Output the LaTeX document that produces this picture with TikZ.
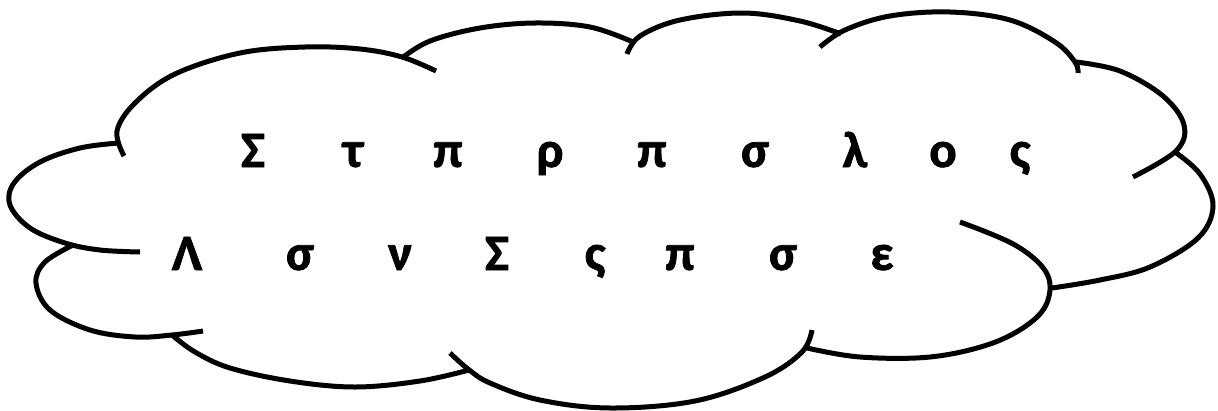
\documentclass[tikz,border=0pt]{standalone}
\usepackage{fontspec}
\setmainfont{Carlito}
\newfontfamily\gfont{Carlito Bold}[FakeBold=1.5]
\begin{document}
\begin{tikzpicture}[x=1pt,y=-1pt,
  bump/.style={line width=5pt, line cap=butt},
  letter/.style={anchor=base, inner sep=0pt, font=\gfont\fontsize{51}{60}\selectfont}]
\useasboundingbox (0,0) rectangle (1218,410);
% cloud bumps
\draw[bump] plot[smooth, tension=0.6] coordinates {(124,156) (117,131) (135,103) (175,74) (240,53) (305,47) (360,49) (402,57) (436,71)};
\draw[bump] plot[smooth, tension=0.6] coordinates {(402,58) (430,41) (480,28) (535,23) (590,27) (633,42)};
\draw[bump] plot[smooth, tension=0.6] coordinates {(627,54) (640,36) (680,20) (743,13) (800,21) (841,34)};
\draw[bump] plot[smooth, tension=0.6] coordinates {(820,47) (845,30) (890,16) (950,12) (1010,20) (1055,42) (1075,62) (1078,73)};
\draw[bump] plot[smooth, tension=0.6] coordinates {(1076,62) (1120,71) (1163,96) (1184,125) (1176,151) (1133,177)};
\draw[bump] plot[smooth, tension=0.6] coordinates {(1175,152) (1200,174) (1213,206) (1198,238) (1150,267) (1100,280) (1052,288)};
\draw[bump] plot[smooth, tension=0.6] coordinates {(960,222) (1015,245) (1046,272) (1048,300) (1030,323) (990,344) (930,357) (860,357) (807,348)};
\draw[bump] plot[smooth, tension=0.6] coordinates {(812,330) (802,352) (765,377) (695,401) (610,408) (540,400) (490,383) (468,369) (450,353)};
\draw[bump] plot[smooth, tension=0.6] coordinates {(469,370) (420,381) (355,387) (290,381) (230,368) (195,352) (172,335)};
\draw[bump] plot[smooth, tension=0.6] coordinates {(203,331) (172,335) (135,337) (90,330) (50,310) (36,283) (45,262) (73,245)};
\draw[bump] plot[smooth, tension=0.6] coordinates {(140,252) (100,250) (65,243) (30,228) (10,205) (14,183) (40,162) (80,148) (119,143)};
% text, line 1
\node[letter] (a1) at (253,167) {Σ};
\node[letter] (a2) at (353,167) {τ};
\node[letter] (a3) at (448,167) {π};
\node[letter] (a4) at (550,167) {ρ};
\node[letter] (a5) at (652,167) {π};
\node[letter] (a6) at (755,167) {σ};
\node[letter] (a7) at (855,167) {λ};
\node[letter] (a8) at (943,167) {ο};
\node[letter] (a9) at (1020,167) {ς};
% text, line 2
\node[letter] (b1) at (187,270) {Λ};
\node[letter] (b2) at (300,270) {σ};
\node[letter] (b3) at (400,270) {ν};
\node[letter] (b4) at (497,270) {Σ};
\node[letter] (b5) at (595,270) {ς};
\node[letter] (b6) at (680,270) {π};
\node[letter] (b7) at (783,270) {σ};
\node[letter] (b8) at (882,270) {ε};
\end{tikzpicture}
\end{document}
